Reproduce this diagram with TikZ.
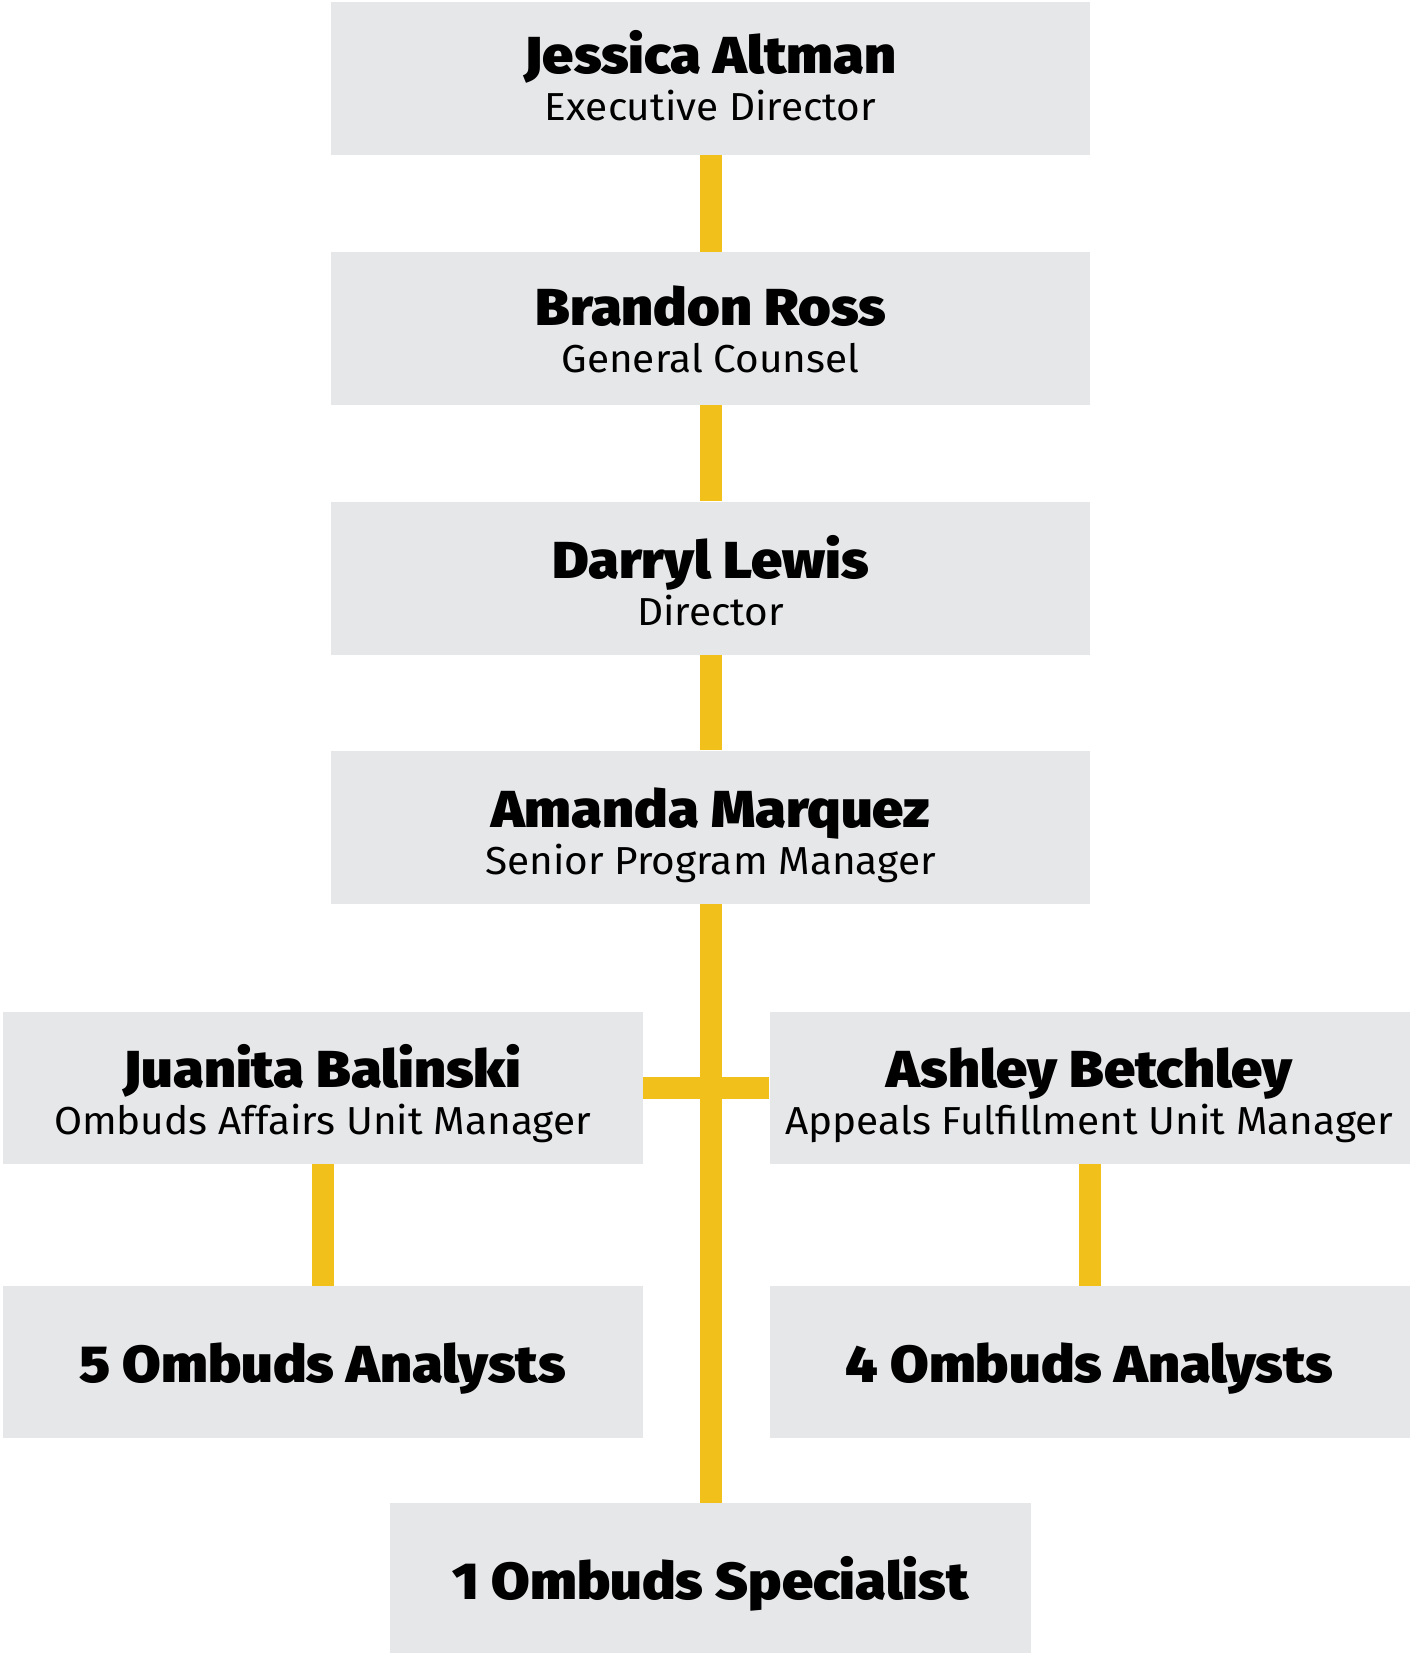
\documentclass[tikz,border=0pt]{standalone}
\usepackage{fontspec}
\usepackage{graphicx}
\setmainfont{Fira Sans}
\newfontfamily\namefont{Fira Sans Black}
\newfontfamily\rolefont{Fira Sans}
\definecolor{boxgrey}{HTML}{E6E7E9}
\definecolor{baryellow}{HTML}{F2C01A}
\newcommand{\nm}[1]{\scalebox{1.075}[1]{\namefont\fontsize{52}{52}\selectfont #1}}
\newcommand{\rl}[1]{\scalebox{1.04}[1]{\rolefont\fontsize{39}{39}\selectfont #1}}
\begin{document}
\begin{tikzpicture}[x=1pt,y=-1pt,
  orgbox/.style={fill=boxgrey,draw=none,inner sep=0pt},
  topbox/.style={orgbox,minimum width=759pt,minimum height=153pt},
  sidebox/.style={orgbox,minimum width=640pt,minimum height=152pt},
  nametext/.style={anchor=base,inner sep=0pt,text=black},
  roletext/.style={anchor=base,inner sep=0pt,text=black},
  conn/.style={draw=baryellow,line width=22pt}]
\useasboundingbox (0,0) rectangle (1409,1653);
\node[topbox] (ja) at (710.5,78.5) {};
\node[topbox] (br) at (710.5,328.5) {};
\node[topbox] (dl) at (710.5,578) {};
\node[topbox] (am) at (710.5,827) {};
\node[sidebox] (jb) at (322.5,1087.5) {};
\node[sidebox] (ab) at (1089.5,1087.5) {};
\node[sidebox] (fa) at (322.5,1362) {};
\node[sidebox] (oa) at (1089.5,1362) {};
\node[orgbox,minimum width=641pt,minimum height=150pt] (os) at (710.5,1578) {};
\draw[conn] (ja.south) -- (br.north);
\draw[conn] (br.south) -- (dl.north);
\draw[conn] (dl.south) -- (am.north);
\draw[conn] (am.south) -- (os.north);
\draw[conn] (jb.east) -- (ab.west);
\draw[conn] (jb.south) -- (fa.north);
\draw[conn] (ab.south) -- (oa.north);
\node[nametext] (jan) at ([yshift=5pt]ja.center) {\nm{Jessica Altman}};
\node[roletext] (jar) at ([yshift=-42pt]ja.center) {\rl{Executive Director}};
\node[nametext] (brn) at ([yshift=3pt]br.center) {\nm{Brandon Ross}};
\node[roletext] (brr) at ([yshift=-44pt]br.center) {\rl{General Counsel}};
\node[nametext] (dln) at ([yshift=0pt]dl.center) {\nm{Darryl Lewis}};
\node[roletext] (dlr) at ([yshift=-47pt]dl.center) {\rl{Director}};
\node[nametext] (amn) at ([yshift=0pt]am.center) {\nm{Amanda Marquez}};
\node[roletext] (amr) at ([yshift=-47pt]am.center) {\rl{Senior Program Manager}};
\node[nametext] (jbn) at ([yshift=0pt]jb.center) {\nm{Juanita Balinski}};
\node[roletext] (jbr) at ([yshift=-47pt]jb.center) {\rl{Ombuds Affairs Unit Manager}};
\node[nametext] (abn) at ([yshift=0pt]ab.center) {\nm{Ashley Betchley}};
\node[roletext] (abr) at ([yshift=-47pt]ab.center) {\rl{Appeals Fulfillment Unit Manager}};
\node[nametext] (fan) at ([yshift=-20pt]fa.center) {\nm{5 Ombuds Analysts}};
\node[nametext] (oan) at ([yshift=-20pt]oa.center) {\nm{4 Ombuds Analysts}};
\node[nametext] (osn) at ([yshift=-21pt]os.center) {\nm{1 Ombuds Specialist}};
\end{tikzpicture}
\end{document}
